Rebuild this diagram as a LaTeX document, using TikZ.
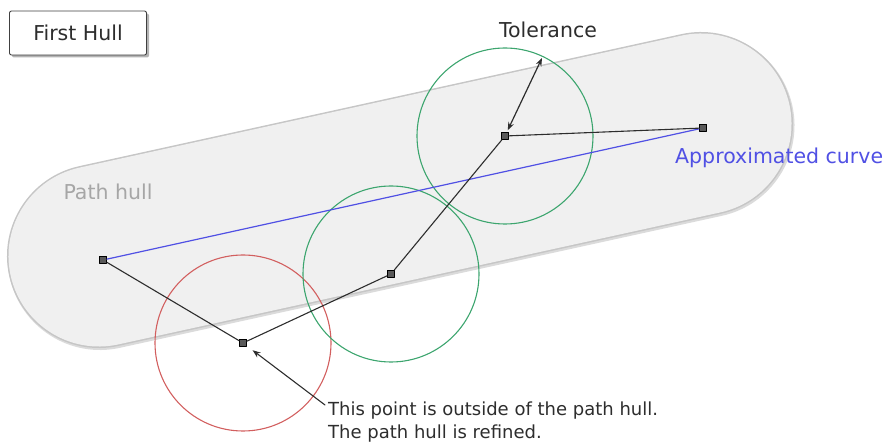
\documentclass[tikz,border=0pt]{standalone}
\usepackage{fontspec}
\setmainfont{DejaVu Sans}
\usetikzlibrary{shadows, arrows.meta}
\definecolor{hullfill}{RGB}{240,240,240}
\definecolor{hullline}{RGB}{198,198,198}
\definecolor{curveblue}{RGB}{80,80,228}
\definecolor{tolred}{RGB}{210,95,95}
\definecolor{tolgreen}{RGB}{60,165,110}
\definecolor{textdark}{RGB}{45,45,45}
\tikzset{
  pt/.style={rectangle, minimum size=7pt, inner sep=0pt, fill=gray!70!black, draw=black, line width=.9pt},
  label/.style={font=\fontsize{20.5}{24}\selectfont, text=textdark, inner sep=0pt},
  notetext/.style={font=\fontsize{18}{23}\selectfont, text=textdark, inner sep=0pt},
  tol/.style={line width=1.1pt}
}
\begin{document}
\begin{tikzpicture}[x=1pt, y=-1pt, line join=round, line cap=round, >={Stealth[length=8pt, width=6pt]}]
	\useasboundingbox (0,0) rectangle (892,446);
	% path hull
	\draw[line width=185pt, color=gray!28] (100,257.5)--(702,125.5);
	\draw[line width=184pt, color=hullline] (99,256)--(701,124);
	\draw[line width=181pt, color=hullfill] (99,256)--(701,124);
	\node[label, text=gray!70] (hull) at (108,192) {Path hull};
	% points
	\node[pt] (p0) at (103,260) {};
	\node[pt] (p1) at (243,343) {};
	\node[pt] (p2) at (391,274) {};
	\node[pt] (p3) at (505,136) {};
	\node[pt] (p4) at (703,128) {};
	% tolerance circles
	\draw[tol, tolred] (p1.center) circle (88pt);
	\draw[tol, tolgreen] (p2.center) circle (88pt)
		(p3.center) circle (88pt);
	% curves
	\draw[line width=1.2pt, curveblue] (p0) -- (p4);
	\draw[line width=1.1pt, textdark] (p0) -- (p1) -- (p2) -- (p3) -- (p4);
	\node[label, text=curveblue, anchor=west] (approx) at (675,158) {Approximated curve};
	% tolerance
	\coordinate (tolend) at (542,58);
	\node[label] (toltext) at (548,30) {Tolerance};
	\draw[<->, line width=1.2pt, textdark, shorten <=2pt] (p3) -- (tolend);
	% title
	\node[label, draw=gray!50!black, fill=white, rounded corners=2pt, line width=.9pt, minimum width=137pt,
		minimum height=44pt, drop shadow={shadow xshift=2.5pt, shadow yshift=-2.5pt, opacity=.6}] (title) at (78,33) {First Hull};
	% note
	\node[notetext, anchor=west, align=left] (note) at (328,422) {This point is outside of the path hull.\\The path hull is refined.};
	\coordinate (noteend) at (325,405);
	\draw[->, line width=1.1pt, textdark, shorten >=12pt] (noteend) -- (p1.center);
\end{tikzpicture}
\end{document}
